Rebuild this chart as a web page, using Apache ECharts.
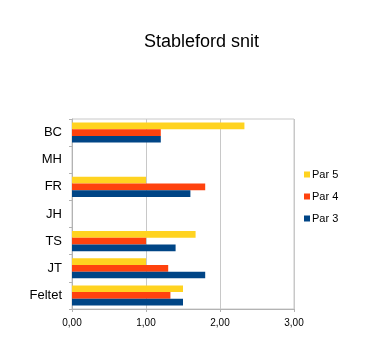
<!DOCTYPE html>
<html lang="en">
<head>
    <meta charset="UTF-8">
    <title>Stableford snit</title>
    <script src="https://cdn.jsdelivr.net/npm/echarts@6.0.0/dist/echarts.min.js"></script>
    <style type="text/css">
        html, body { margin: 0; padding: 0; background: #fff; }
        #chart { width: 368px; height: 351px; }
    </style>
</head>
<body>
    <div id="chart"></div>
    <script>
        // spillere, oppe til nede
        var players = ['BC', 'MH', 'FR', 'JH', 'TS', 'JT', 'Feltet'];
        var par5 = [2.33, null, 1.0, null, 1.67, 1.0, 1.5];
        var par4 = [1.2, null, 1.8, null, 1.0, 1.3, 1.33];
        var par3 = [1.2, null, 1.6, null, 1.4, 1.8, 1.5];
        var xTicks = [0, 1, 2, 3];

        var chart = echarts.init(document.getElementById('chart'));

        function bar(name, data, color) {
            return {
                name: name,
                type: 'bar',
                data: data,
                barGap: '0%',
                barCategoryGap: '26%',
                itemStyle: { color: color }
            };
        }

        var option = {
            animation: false,
            title: {
                text: 'Stableford snit',
                left: 139,
                top: 28,
                textStyle: { fontFamily: 'Liberation Sans', fontSize: 18, fontWeight: 'normal', color: '#000' }
            },
            legend: {
                orient: 'vertical',
                left: 299,
                top: 164,
                itemWidth: 6,
                itemHeight: 6,
                itemGap: 11,
                icon: 'rect',
                textStyle: { fontFamily: 'Liberation Sans', fontSize: 11, color: '#000', padding: [0, 0, 0, -3] },
                data: ['Par 5', 'Par 4', 'Par 3']
            },
            grid: {
                left: 72, right: 74, top: 119, bottom: 42,
                show: true,
                borderColor: '#c8c8c8',
                borderWidth: 1
            },
            xAxis: {
                type: 'value',
                min: xTicks[0],
                max: xTicks[xTicks.length - 1],
                interval: 1,
                axisLine: { show: true, lineStyle: { color: '#b3b3b3' } },
                axisTick: { show: true, length: 3, lineStyle: { color: '#b3b3b3' } },
                splitLine: { lineStyle: { color: '#c8c8c8' } },
                axisLabel: {
                    fontFamily: 'Liberation Sans', fontSize: 10, color: '#000', margin: 9,
                    formatter: function (v) { return v.toFixed(2).replace('.', ','); }
                }
            },
            yAxis: {
                type: 'category',
                data: players,
                inverse: true,
                axisLine: { show: true, lineStyle: { color: '#b3b3b3' } },
                axisTick: { show: true, length: 3, lineStyle: { color: '#b3b3b3' } },
                axisLabel: { fontFamily: 'Liberation Sans', fontSize: 13, color: '#000', margin: 10 }
            },
            series: [
                bar('Par 5', par5, '#ffd320'),
                bar('Par 4', par4, '#ff420e'),
                bar('Par 3', par3, '#004586')
            ]
        };

        chart.setOption(option);
    </script>
</body>
</html>
